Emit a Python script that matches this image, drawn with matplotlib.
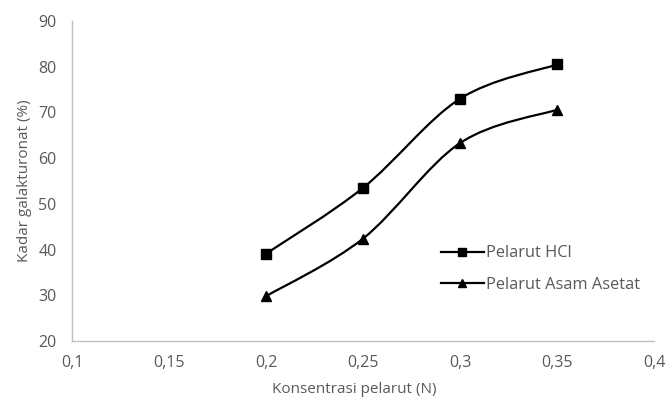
import matplotlib.pyplot as plt
from matplotlib.path import Path
from matplotlib.patches import PathPatch
from matplotlib.lines import Line2D

plt.rcParams['font.family'] = ['Open Sans', 'DejaVu Sans']

konsentrasi = [0.2, 0.25, 0.3, 0.35]
kadar_hcl = [39.1, 53.5, 73.0, 80.5]
kadar_asetat = [29.8, 42.4, 63.3, 70.6]

x_ticks = [0.1, 0.15, 0.2, 0.25, 0.3, 0.35, 0.4]
x_labels = ['0,1', '0,15', '0,2', '0,25', '0,3', '0,35', '0,4']
y_ticks = [20, 30, 40, 50, 60, 70, 80, 90]

gray = '#595959'


def smooth_path(xs, ys):
    # bezier segments through the points, like a spreadsheet "smoothed line"
    pts = list(zip(xs, ys))
    verts = [pts[0]]
    codes = [Path.MOVETO]
    n = len(pts)
    for i in range(n - 1):
        p0 = pts[i - 1] if i > 0 else pts[i]
        p1 = pts[i]
        p2 = pts[i + 1]
        p3 = pts[i + 2] if i + 2 < n else pts[i + 1]
        c1 = (p1[0] + (p2[0] - p0[0]) / 6, p1[1] + (p2[1] - p0[1]) / 6)
        c2 = (p2[0] - (p3[0] - p1[0]) / 6, p2[1] - (p3[1] - p1[1]) / 6)
        verts += [c1, c2, p2]
        codes += [Path.CURVE4] * 3
    return Path(verts, codes)


fig = plt.figure(figsize=(6.69, 4.03), dpi=100)
ax = fig.add_axes([0.1076, 0.1538, 0.8700, 0.7940])

for ys, mk in [(kadar_hcl, 's'), (kadar_asetat, '^')]:
    ax.add_patch(PathPatch(smooth_path(konsentrasi, ys), fill=False,
                           edgecolor='black', lw=1.6))
    ax.plot(konsentrasi, ys, linestyle='none', marker=mk, color='black',
            markersize=6.5 if mk == 's' else 7)

ax.set_xlim(0.1, 0.4)
ax.set_ylim(20, 90)
ax.set_xticks(x_ticks)
ax.set_xticklabels(x_labels)
ax.set_yticks(y_ticks)
ax.tick_params(length=0, labelsize=11.5, colors=gray)
ax.tick_params(axis='x', pad=10)
ax.tick_params(axis='y', pad=11)

for s in ['top', 'right']:
    ax.spines[s].set_visible(False)
for s in ['left', 'bottom']:
    ax.spines[s].set_color('#bfbfbf')
    ax.spines[s].set_linewidth(1)

ax.set_xlabel('Konsentrasi pelarut (N)', fontsize=11, color=gray)
ax.xaxis.set_label_coords(0.485, -0.128)
ax.set_ylabel('Kadar galakturonat (%)', fontsize=11, color=gray, labelpad=5)

handles = [
    Line2D([], [], color='black', lw=1.6, marker='s', markersize=6),
    Line2D([], [], color='black', lw=1.6, marker='^', markersize=6),
]
ax.legend(handles, ['Pelarut HCl', 'Pelarut Asam Asetat'], frameon=False,
          loc='center left', bbox_to_anchor=(0.62, 0.225), fontsize=11.8,
          labelcolor=gray, handlelength=2.6, handletextpad=0.15,
          labelspacing=0.95, borderpad=0)

fig.savefig('out.png', dpi=100)
